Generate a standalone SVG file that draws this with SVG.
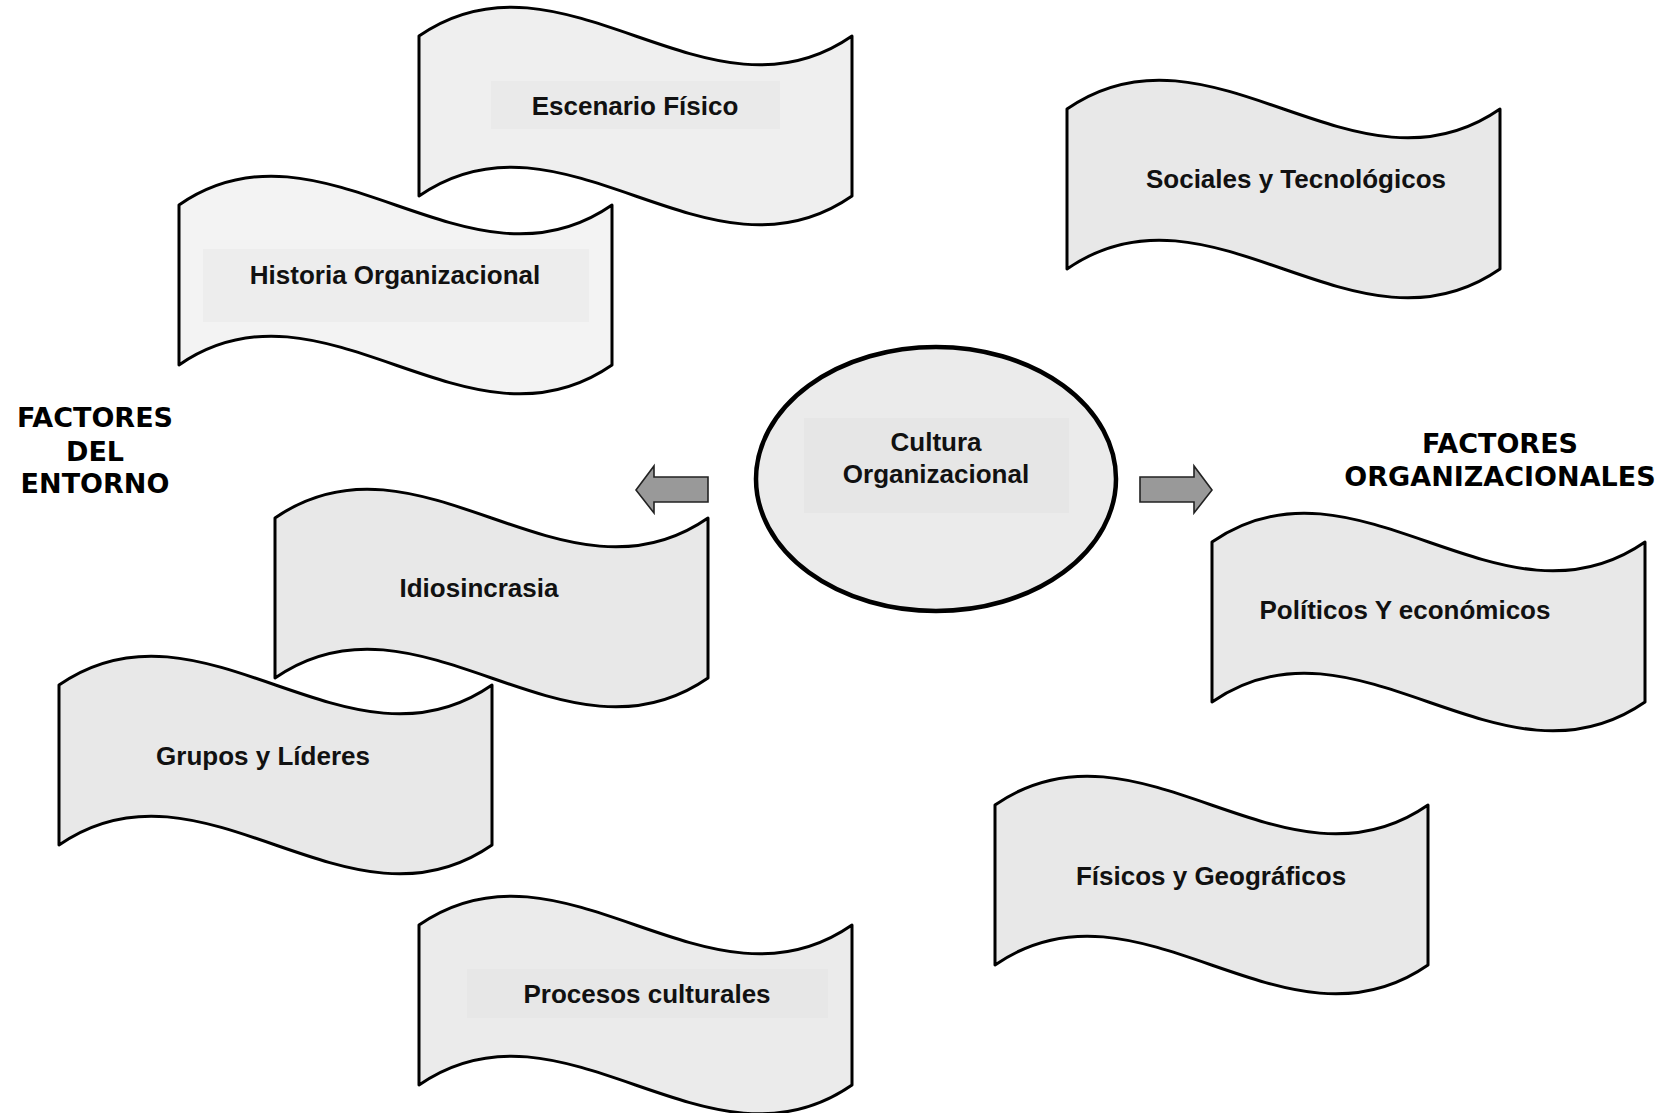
<svg xmlns="http://www.w3.org/2000/svg" xmlns:xlink="http://www.w3.org/1999/xlink" width="1668" height="1113" viewBox="0 0 1668 1113">
  <defs>
    <!-- wavy banner (punched-tape) shape, 433 x 160 -->
    <path id="wave" d="M0,0 C144,-100 289,100 433,0 L433,160 C289,260 144,60 0,160 Z"/>
    <style>
      .wave { stroke: #000; stroke-width: 3; stroke-linejoin: round; }
      .lbl { font-family: "Liberation Sans", Arial, sans-serif; font-weight: bold; font-size: 26px; fill: #111; text-anchor: middle; }
      .head { font-family: "DejaVu Sans", Verdana, sans-serif; font-weight: bold; font-size: 27px; fill: #000; text-anchor: middle; }
      .arrow { fill: #999; stroke: #222; stroke-width: 1.6; stroke-linejoin: miter; }
    </style>
  </defs>
  <rect width="1668" height="1113" fill="#fff"/>

  <!-- section headings -->
  <g id="heading-entorno">
    <text class="head" x="95" y="427">FACTORES</text>
    <text class="head" x="95" y="461">DEL</text>
    <text class="head" x="95" y="493">ENTORNO</text>
  </g>
  <g id="heading-organizacionales">
    <text class="head" x="1500" y="453">FACTORES</text>
    <text class="head" x="1500" y="486">ORGANIZACIONALES</text>
  </g>

  <!-- banners -->
  <g id="escenario-fisico">
    <use xlink:href="#wave" class="wave" x="419" y="36" fill="#efefef"/>
    <rect x="491" y="81" width="289" height="48" fill="#eaeaea"/>
    <text class="lbl" x="635" y="115">Escenario Físico</text>
  </g>
  <g id="historia-organizacional">
    <use xlink:href="#wave" class="wave" x="179" y="205" fill="#f3f3f3"/>
    <rect x="203" y="249" width="386" height="73" fill="#ededed"/>
    <text class="lbl" x="395" y="284">Historia Organizacional</text>
  </g>
  <g id="sociales-tecnologicos">
    <use xlink:href="#wave" class="wave" x="1067" y="109" fill="#e8e8e8"/>
    <text class="lbl" x="1296" y="188">Sociales y Tecnológicos</text>
  </g>
  <g id="idiosincrasia">
    <use xlink:href="#wave" class="wave" x="275" y="518" fill="#e8e8e8"/>
    <text class="lbl" x="479" y="597">Idiosincrasia</text>
  </g>
  <g id="grupos-lideres">
    <use xlink:href="#wave" class="wave" x="59" y="685" fill="#e8e8e8"/>
    <text class="lbl" x="263" y="765">Grupos y Líderes</text>
  </g>
  <g id="procesos-culturales">
    <use xlink:href="#wave" class="wave" x="419" y="925" fill="#ebebeb"/>
    <rect x="467" y="969" width="361" height="49" fill="#e7e7e7"/>
    <text class="lbl" x="647" y="1003">Procesos culturales</text>
  </g>
  <g id="fisicos-geograficos">
    <use xlink:href="#wave" class="wave" x="995" y="805" fill="#e8e8e8"/>
    <text class="lbl" x="1211" y="885">Físicos y Geográficos</text>
  </g>
  <g id="politicos-economicos">
    <use xlink:href="#wave" class="wave" x="1212" y="542" fill="#e8e8e8"/>
    <text class="lbl" x="1405" y="619">Políticos Y económicos</text>
  </g>

  <!-- central node -->
  <g id="cultura-organizacional">
    <ellipse cx="936" cy="479" rx="180" ry="132" fill="#ebebeb" stroke="#000" stroke-width="4.5"/>
    <rect x="804" y="418" width="265" height="95" fill="#e6e6e6"/>
    <text class="lbl" x="936" y="451" font-size="25">Cultura</text>
    <text class="lbl" x="936" y="483" font-size="25">Organizacional</text>
  </g>

  <!-- block arrows pointing out of the central node -->
  <g id="connectors">
    <polygon class="arrow" points="708,477 654,477 654,466 636,490 654,513 654,502 708,502"/>
    <polygon class="arrow" points="1140,477 1194,477 1194,466 1212,490 1194,513 1194,502 1140,502"/>
  </g>
</svg>
